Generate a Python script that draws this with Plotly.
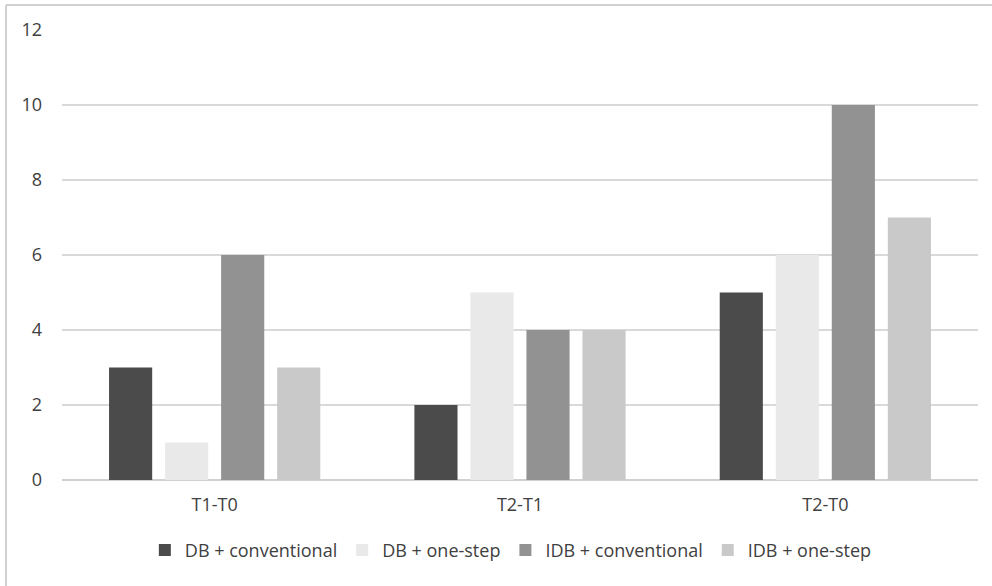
import plotly.graph_objects as go

categories = ["T1-T0", "T2-T1", "T2-T0"]
series_names = ["DB + conventional", "DB + one-step", "IDB + conventional", "IDB + one-step"]
db_conventional = [3, 2, 5]
db_one_step = [1, 5, 6]
idb_conventional = [6, 4, 10]
idb_one_step = [3, 4, 7]
y_ticks = [0, 2, 4, 6, 8, 10, 12]

colors = ["#4b4b4b", "#e9e9e9", "#929292", "#c9c9c9"]
values = [db_conventional, db_one_step, idb_conventional, idb_one_step]

fig = go.Figure()
for name, vals, col in zip(series_names, values, colors):
    fig.add_trace(go.Bar(x=categories, y=vals, name=name,
                         marker=dict(color=col, line=dict(width=0))))

fig.update_layout(
    width=992, height=586,
    margin=dict(l=62, r=14, t=30, b=106),
    paper_bgcolor="white", plot_bgcolor="white",
    barmode="group", bargap=0.266, bargroupgap=0.23,
    font=dict(family="Open Sans, Noto Sans, sans-serif", size=18, color="#404040"),
    showlegend=True,
    legend=dict(orientation="h", x=0.49, xanchor="center", y=-0.156, yanchor="middle",
                font=dict(size=18, color="#404040"), itemwidth=30, traceorder="normal"),
    xaxis=dict(showgrid=False, showline=False, ticks="", tickfont=dict(size=18),
               ticklabelstandoff=12),
    yaxis=dict(range=[0, 12], tickvals=y_ticks, showgrid=True, gridcolor="#d9d9d9",
               gridwidth=1.5, zeroline=True, zerolinecolor="#d0d0d0", zerolinewidth=1.5,
               ticks="", showline=False, tickfont=dict(size=18), ticklabelstandoff=19),
)
# outer chart border (left and top visible)
fig.add_shape(type="line", xref="paper", yref="paper", x0=-0.0611, x1=-0.0611,
              y0=-0.3, y1=1.0556, line=dict(color="#d0d0d0", width=2))
fig.add_shape(type="line", xref="paper", yref="paper", x0=-0.0611, x1=1.2,
              y0=1.0556, y1=1.0556, line=dict(color="#d0d0d0", width=2))

fig.write_html("out.html", config={"displayModeBar": False},
               post_script="document.body.style.margin='0';")
